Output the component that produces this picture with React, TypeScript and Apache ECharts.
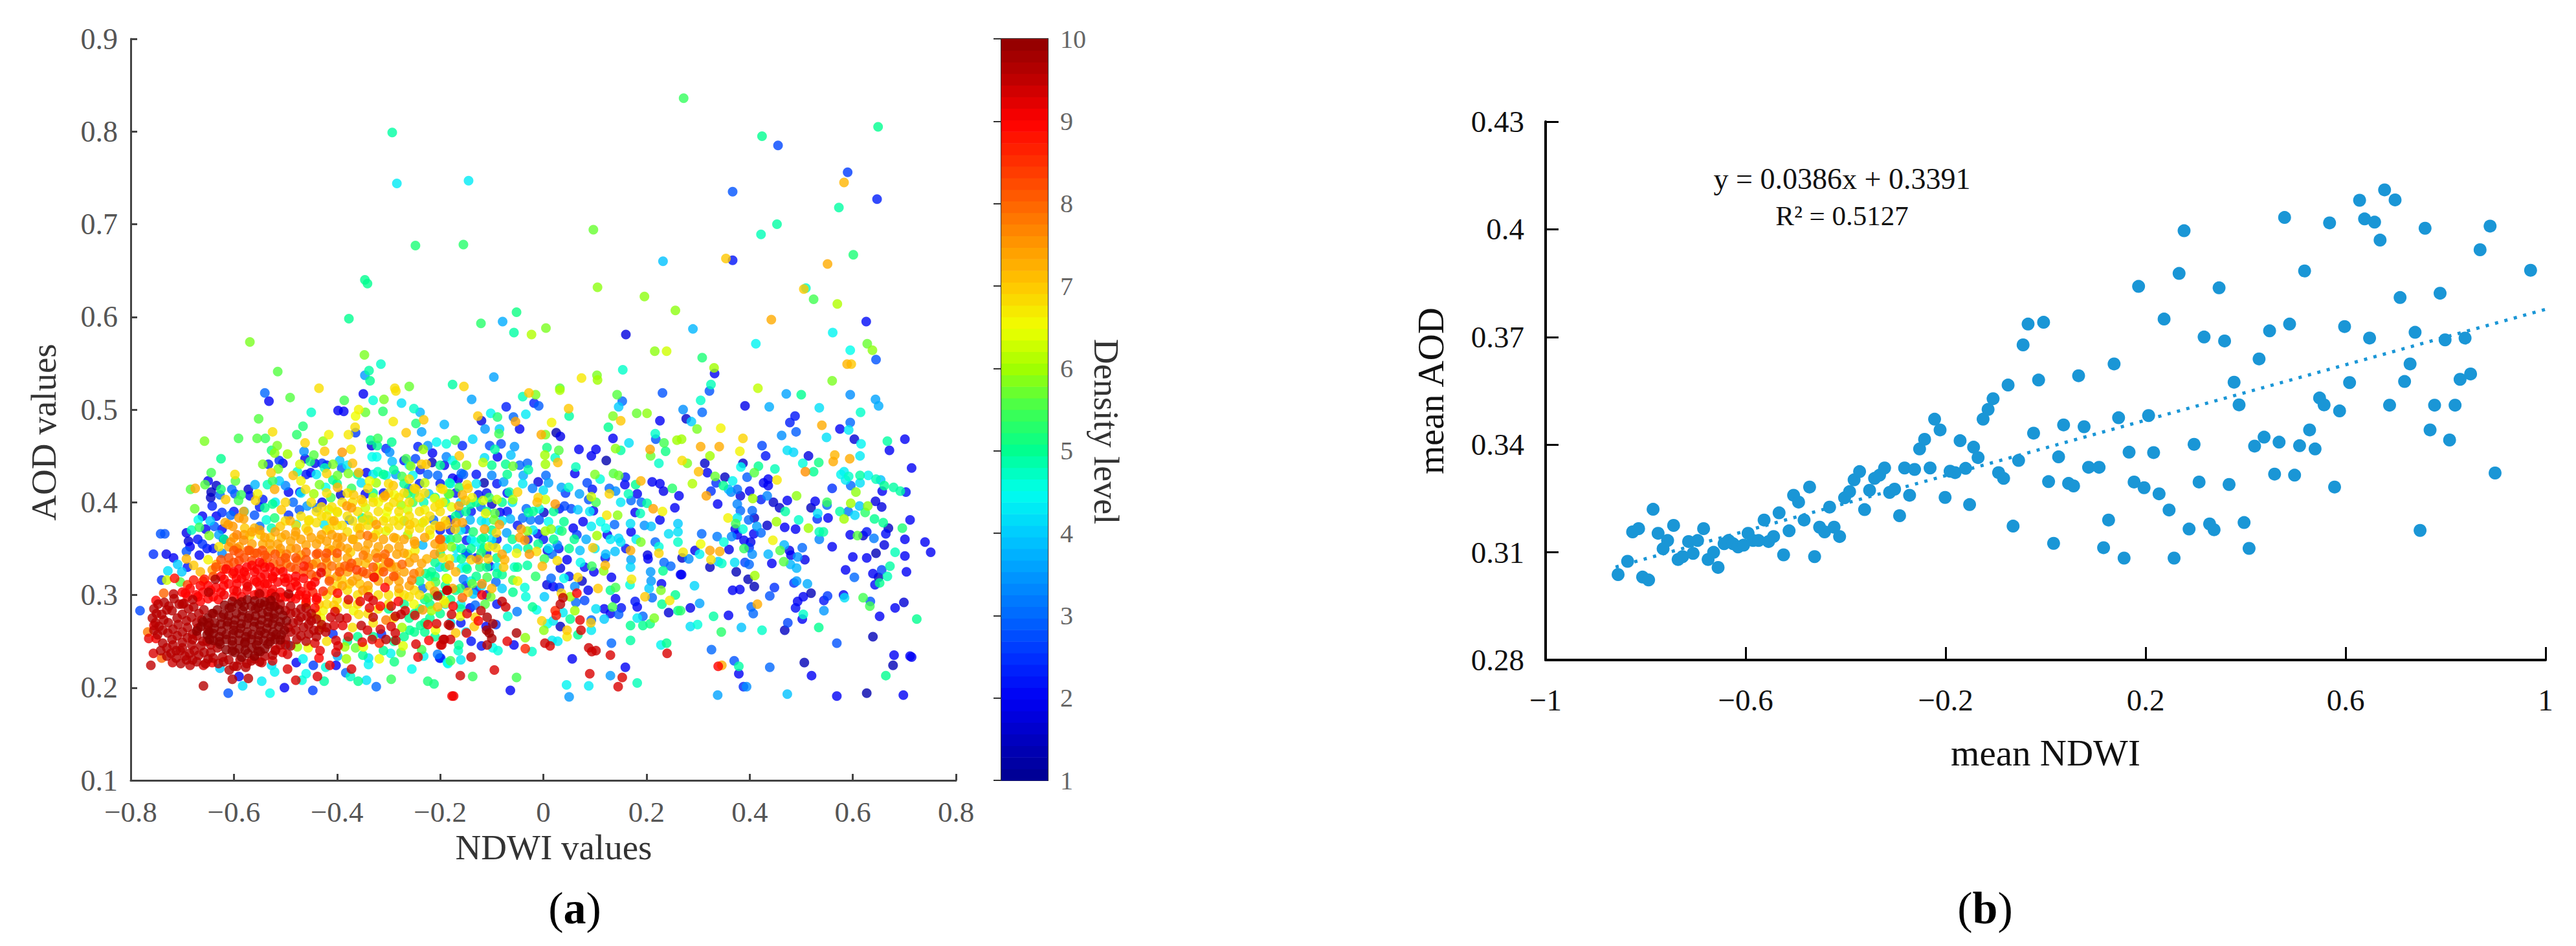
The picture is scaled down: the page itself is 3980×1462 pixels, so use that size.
import React, { useEffect, useRef } from "react";
import * as echarts from "echarts";

// ---------- Panel (a): NDWI values, AOD values, density level ----------
const sparseUpper: number[][] = [
[-0.293,0.799,4.9],[-0.284,0.744,4.3],[-0.145,0.747,4.3],[-0.248,0.677,5.2],[-0.155,0.678,5.3],[-0.346,0.640,5],[-0.341,0.636,5],[-0.377,0.598,5],[-0.569,0.573,5.8],[-0.052,0.605,5.1],[-0.121,0.593,5.3],[-0.079,0.595,3.7],[-0.057,0.583,4.9],[-0.023,0.581,6.1],[0.005,0.588,5.8],[-0.347,0.559,5.8],[-0.315,0.549,4.7],[-0.515,0.541,5.6],[-0.338,0.542,4.9],[-0.346,0.537,3.5],[-0.336,0.531,5],[-0.176,0.527,4.9],[-0.154,0.525,6.9],[-0.096,0.535,3.6],[-0.260,0.525,5.7],[-0.435,0.523,6.8],[-0.288,0.523,6.8],
[0.272,0.836,5.4],[0.424,0.795,5],[0.455,0.785,2.7],[0.649,0.805,5],[0.590,0.756,2.6],[0.583,0.745,7.2],[0.367,0.735,2.8],[0.647,0.727,2.3],[0.573,0.718,4.9],[0.453,0.700,4.9],[0.422,0.689,4.8],[0.097,0.694,5.7],[0.232,0.660,3.9],[0.367,0.661,2.2],[0.354,0.663,7],[0.551,0.657,7.3],[0.601,0.667,5.2],[0.105,0.632,5.9],[0.196,0.622,5.9],[0.256,0.607,5.9],[0.509,0.631,4.7],[0.505,0.630,7],[0.524,0.619,5.5],[0.570,0.614,6.1],[0.442,0.597,7.3],[0.626,0.595,2.1],[0.160,0.581,1.8],[0.290,0.587,3.8],[0.561,0.583,4.4],[0.412,0.571,4.4],[0.595,0.564,4.5],[0.628,0.571,5.7],[0.638,0.564,5.9],[0.645,0.554,2.8],[0.589,0.549,7.2],[0.597,0.549,7],[0.216,0.563,5.9],[0.239,0.563,6.3],[0.308,0.556,5.2],[0.331,0.545,6],[0.332,0.539,2],[0.154,0.543,4.7],[0.074,0.534,6.7],[0.104,0.537,5.8],[0.105,0.532,6],[0.560,0.531,5.8],[0.325,0.527,4.8],[0.416,0.523,6.2],[0.032,0.523,5.6],
];
const sparseRight: number[][] = [
[0.322,0.520,2.8],[0.305,0.510,4.7],[0.271,0.500,3.4],[0.308,0.497,3],[0.277,0.490,1.6],[0.287,0.487,4],[0.298,0.479,5.8],[0.344,0.480,6.6],[0.268,0.468,6],[0.387,0.469,6.9],[0.305,0.460,7.3],[0.341,0.460,7.3],[0.381,0.455,6.6],[0.323,0.450,6],[0.269,0.445,6.8],[0.279,0.442,5.8],[0.313,0.442,1.6],[0.301,0.433,7.1],[0.318,0.432,2],[0.333,0.428,5.7],[0.352,0.427,1.5],[0.289,0.420,6.1],[0.367,0.423,4.4],[0.349,0.418,5],[0.335,0.421,2.5],[0.325,0.412,2.5],[0.316,0.407,7.4],[0.359,0.414,3.8],[0.376,0.414,3],[0.364,0.411,3.3],[0.382,0.407,1.8],[0.387,0.442,1.6],[0.383,0.438,4.5],[0.417,0.439,5],[0.409,0.432,5.6],[0.395,0.427,2.9],[0.449,0.436,4.8],[0.424,0.461,2.7],[0.431,0.450,2.2],[0.438,0.503,3.7],[0.391,0.504,1.9],[0.471,0.517,3.6],[0.500,0.516,5],[0.535,0.502,4.2],[0.488,0.493,2.2],[0.478,0.486,2.3],[0.490,0.476,2.9],[0.462,0.472,3.4],[0.540,0.483,7.3],[0.575,0.479,2],[0.595,0.486,3],[0.592,0.478,4.3],[0.549,0.470,4.2],[0.595,0.516,3.4],[0.644,0.511,3.6],[0.650,0.504,3.7],[0.615,0.497,4.7],[0.603,0.468,1.7],[0.616,0.463,4.4],[0.667,0.466,4.9],[0.701,0.468,2],[0.671,0.456,2],[0.473,0.456,4.2],[0.485,0.454,4.1],[0.514,0.450,1.8],[0.503,0.442,4.6],[0.534,0.443,5.1],[0.565,0.451,7.2],[0.562,0.444,7.3],[0.594,0.447,7.3],[0.614,0.450,4.3],[0.508,0.433,7.6],[0.524,0.433,5],[0.714,0.437,2],[0.583,0.433,4.3],[0.577,0.430,4.4],[0.592,0.428,4.7],[0.586,0.424,4.3],[0.614,0.421,4.2],[0.614,0.429,4.9],[0.630,0.429,4.4],[0.645,0.425,4.8],[0.654,0.424,3.9],[0.661,0.418,5],[0.679,0.416,4.9],[0.692,0.412,4.9],[0.703,0.411,2.2],[0.657,0.412,2],[0.596,0.418,3],[0.560,0.415,2.5],[0.606,0.411,5.9],[0.453,0.424,6.7],[0.436,0.425,2],[0.427,0.421,2],[0.436,0.418,2],[0.400,0.412,2],[0.406,0.404,6],[0.434,0.407,3.3],[0.422,0.403,2.3],[0.491,0.407,5.9],[0.473,0.402,2],[0.446,0.400,1.6],[0.458,0.394,1.6],[0.527,0.401,2],[0.519,0.394,1.5],[0.550,0.400,5.4],[0.550,0.397,3],[0.596,0.399,6],[0.644,0.401,1.8],[0.656,0.395,1.8],[0.629,0.396,5.9],[0.613,0.396,3.9],[0.575,0.390,4.9],[0.591,0.390,3.1],[0.624,0.389,5.3],[0.604,0.386,4.1],[0.532,0.388,4.2],[0.531,0.382,2.5],[0.552,0.383,2],[0.583,0.382,6],[0.642,0.382,5],[0.659,0.378,5],[0.711,0.381,2],[0.669,0.372,1.5],[0.696,0.372,5.2],[0.664,0.366,2.1],[0.627,0.368,2.2],[0.595,0.365,2],[0.609,0.364,5.6],[0.620,0.364,1.6],[0.641,0.361,3.2],[0.701,0.360,2],[0.740,0.357,2],[0.751,0.346,2],[0.661,0.354,1.8],[0.560,0.352,2],[0.535,0.368,4.8],[0.543,0.368,4.9],[0.535,0.360,3.3],[0.514,0.372,6],[0.495,0.381,4.7],[0.489,0.371,2],[0.468,0.373,2],[0.452,0.379,6],[0.469,0.390,4.9],[0.434,0.375,1.6],[0.445,0.359,6.6],[0.414,0.374,3.6],[0.422,0.367,3],[0.408,0.366,2],[0.398,0.381,3],[0.409,0.383,1.6],[0.405,0.391,3],[0.382,0.391,3],[0.376,0.398,3.3],[0.338,0.398,2],[0.358,0.383,6.6],[0.376,0.383,4.3],[0.373,0.377,5.5],[0.372,0.371,2],[0.387,0.371,4.6],[0.365,0.363,3.3],[0.376,0.365,2],[0.337,0.363,3.2],[0.307,0.366,3],[0.350,0.357,4.6],[0.360,0.349,1.9],[0.389,0.359,2],[0.402,0.357,1.9],[0.389,0.350,5.4],[0.399,0.351,2.5],[0.405,0.344,3.4],[0.436,0.344,3.8],[0.467,0.354,3.8],[0.459,0.348,5.6],[0.477,0.348,1.9],[0.480,0.343,2],[0.502,0.351,3],[0.493,0.341,3.5],[0.507,0.338,1.9],[0.466,0.336,5.6],[0.479,0.333,3.8],[0.491,0.329,3.8],[0.443,0.334,2],[0.391,0.335,2.7],[0.399,0.333,3],[0.371,0.335,4.2],[0.374,0.325,1.4],[0.410,0.321,6],[0.397,0.317,1.4],[0.409,0.309,1.4],[0.381,0.306,2],[0.367,0.305,2],[0.305,0.355,6.5],[0.323,0.348,7.4],[0.342,0.347,7.3],[0.303,0.344,4.4],[0.271,0.346,6.7],[0.294,0.348,1.9],[0.269,0.340,1.6],[0.282,0.339,3.4],[0.325,0.338,6.8],[0.346,0.334,4.7],[0.339,0.336,4],[0.323,0.330,1.5],[0.268,0.322,2],[0.293,0.310,4.1],[0.448,0.308,2.5],[0.439,0.299,2.8],[0.491,0.315,3.5],[0.486,0.313,2.5],[0.512,0.312,3.7],[0.519,0.302,1.4],[0.504,0.298,2],[0.493,0.293,2],[0.489,0.286,2.1],[0.504,0.279,4.7],[0.502,0.274,2],[0.544,0.294,2.2],[0.551,0.299,2.6],[0.544,0.283,3.5],[0.582,0.300,2],[0.584,0.297,4.2],[0.620,0.297,5.5],[0.634,0.293,2.8],[0.633,0.288,5.5],[0.682,0.286,2],[0.699,0.292,1.7],[0.652,0.277,2],[0.724,0.274,5],[0.303,0.291,3.6],[0.285,0.286,1.9],[0.266,0.283,5.3],[0.330,0.277,4.9],[0.359,0.278,2],[0.403,0.287,3],[0.415,0.290,7.3],[0.407,0.280,3],[0.285,0.266,4.2],[0.299,0.268,4.6],[0.345,0.260,5.3],[0.384,0.265,3.9],[0.424,0.262,4.7],[0.474,0.270,2.7],[0.468,0.262,1.5],[0.534,0.265,5],[0.639,0.255,1.4],[0.569,0.248,2.8],[0.326,0.241,3],[0.339,0.223,9],[0.346,0.224,7.3],[0.370,0.229,2.8],[0.379,0.223,4.9],[0.379,0.215,2],[0.439,0.222,3],[0.506,0.227,1.4],[0.520,0.213,2],[0.678,0.224,1.4],[0.680,0.235,2],[0.711,0.234,2],[0.714,0.233,2],[0.664,0.213,5],[0.388,0.201,2.4],[0.394,0.201,3.4],[0.338,0.192,3.6],[0.473,0.193,3.9],[0.569,0.191,2],[0.627,0.194,1.3],[0.698,0.192,2],[0.600,0.341,2],[0.627,0.340,2],[0.645,0.345,1.4],[0.682,0.346,4.8],[0.701,0.342,2],[0.586,0.327,2],[0.603,0.319,3],[0.639,0.323,2],[0.656,0.327,2.7],[0.672,0.331,4.9],[0.704,0.325,2],[0.667,0.320,4.8],[0.650,0.319,1.4],[0.643,0.311,2.1],[0.652,0.313,5],
];
const sparseMiddle: number[][] = [
[-0.139,0.511,3.6],[-0.028,0.518,7],[-0.015,0.516,5.8],[-0.040,0.514,4.8],[-0.018,0.507,2.3],[-0.009,0.504,2.9],[0.032,0.521,6.1],[0.143,0.516,5.6],[0.153,0.509,3],[0.146,0.503,4],[0.231,0.518,2.8],[-0.072,0.503,2.3],[-0.102,0.496,4.4],[-0.034,0.495,4.3],[0.049,0.501,7],[0.050,0.493,4.9],[-0.127,0.493,7],[-0.089,0.492,5.2],[-0.058,0.492,3],[-0.054,0.487,7.4],[-0.120,0.488,1.8],[-0.046,0.479,2],[0.016,0.486,6.6],[-0.192,0.484,3.8],[-0.113,0.479,3.5],[-0.085,0.479,4],[-0.086,0.474,5.5],[-0.004,0.473,7.3],[0.004,0.473,5.8],[0.025,0.475,1.3],[0.033,0.471,1.9],[0.126,0.481,5],[0.135,0.493,5.8],[0.150,0.488,7],[0.181,0.496,5.7],[0.201,0.496,5.9],[0.226,0.488,2],[0.135,0.469,2],[0.166,0.464,4.2],[0.217,0.474,4.7],[0.218,0.468,2.8],[0.234,0.464,5.5],[0.259,0.467,6],[0.237,0.455,5.1],[0.207,0.457,7.4],[0.208,0.450,5.7],[0.140,0.458,5.9],[0.150,0.456,4.9],[0.069,0.457,2],[0.102,0.457,2],[0.093,0.450,2],[0.122,0.445,1.3],[0.224,0.442,4.7],[-0.137,0.468,4.1],[-0.157,0.461,2.4],[-0.171,0.467,5.6],[-0.188,0.463,4.6],[-0.104,0.461,2.7],[-0.082,0.463,2.7],[-0.056,0.460,3.5],[-0.094,0.457,4.9],[-0.063,0.451,3.9],[-0.089,0.449,2],[-0.114,0.448,4.2],[-0.117,0.443,6.2],[0.007,0.459,5.1],[0.030,0.456,5.6],[0.003,0.451,6],[0.023,0.448,4.7],[0.028,0.443,7.1],[0.004,0.441,6],[-0.073,0.441,5],[-0.059,0.439,5.7],[-0.046,0.440,3],[-0.031,0.442,3],[-0.029,0.435,4.9],[-0.039,0.429,3.7],[-0.100,0.429,3.3],[-0.077,0.422,3.6],[-0.115,0.421,1.3],[0.061,0.431,2],[0.063,0.438,4.8],[0.100,0.430,5.8],[0.110,0.425,4.6],[0.136,0.431,5.6],[0.146,0.429,5.7],[0.159,0.427,2.4],[0.158,0.419,2],[0.189,0.423,7.2],[0.179,0.419,5],[0.211,0.422,2],[0.226,0.420,2],[0.233,0.412,1.9],[0.250,0.415,5.3],[0.005,0.429,3],[-0.010,0.422,1.8],[0.010,0.421,3.6],[0.000,0.413,4.2],[-0.021,0.415,3.2],[0.035,0.416,3.6],[0.049,0.416,4.7],[0.043,0.410,2.6],[0.070,0.409,3.6],[0.085,0.421,2.7],[0.095,0.414,2.2],[0.128,0.415,3],[0.140,0.412,3.4],[0.128,0.409,6.9],[0.165,0.409,4.8],[0.182,0.409,2],[0.170,0.402,3],[0.093,0.406,6.3],[0.102,0.400,5.5],[0.088,0.403,2.8],[-0.066,0.411,4.9],[-0.050,0.411,6.9],[-0.059,0.403,6.1],[-0.010,0.405,6.9],[0.004,0.403,6.3],[-0.012,0.400,7.1],[0.023,0.398,7.5],[0.041,0.396,2.7],[0.054,0.393,2.7],[0.067,0.392,4],[0.031,0.393,2.2],[0.097,0.391,2],[0.201,0.399,4.9],[0.190,0.400,3],[0.213,0.393,7.4],[0.231,0.390,6.6],[0.178,0.389,2],[0.188,0.388,4.8],[0.255,0.394,2],[0.263,0.407,2],[-0.033,0.393,3],[-0.029,0.389,4.9],[0.001,0.389,1.6],[-0.008,0.393,4.6],[-0.040,0.383,3],[-0.025,0.381,3.2],[-0.008,0.381,2.8],[-0.064,0.382,3.8],[-0.084,0.389,2],[-0.100,0.398,1.6],[-0.121,0.395,3],[-0.112,0.388,6.6],[-0.094,0.388,5.6],[-0.111,0.379,4.3],[-0.096,0.381,5.7],[-0.085,0.376,7.4],[-0.114,0.371,7.4],[-0.091,0.367,6.9],[-0.071,0.367,3.6],[-0.043,0.371,7.4],[-0.031,0.369,5.9],[-0.046,0.362,7.4],[-0.036,0.359,7.5],[0.004,0.369,6],[0.015,0.371,5.9],[-0.011,0.366,2],[0.010,0.379,4.5],[0.040,0.379,5],[0.036,0.369,5.2],[0.058,0.372,2],[0.065,0.365,2.6],[0.077,0.379,2],[0.093,0.374,4.3],[0.111,0.379,4.5],[0.123,0.386,6.7],[0.144,0.386,5.9],[0.138,0.376,3],[0.121,0.372,4.5],[0.124,0.365,2],[0.104,0.364,6],[0.083,0.360,3.7],[0.169,0.377,4.2],[0.170,0.368,2],[0.196,0.375,3.4],[0.209,0.374,3.9],[0.226,0.381,2],[0.261,0.377,4],[0.243,0.366,4.2],[0.261,0.368,4.2],[0.146,0.361,4.1],[0.150,0.357,4.2],[0.189,0.357,5.8],[0.217,0.357,3],[0.224,0.352,4.6],[0.261,0.357,4.7],[0.169,0.348,7.3],[0.139,0.347,3.9],[0.121,0.344,3.9],[0.096,0.351,7],[0.071,0.348,3.9],[0.027,0.354,3.3],[0.008,0.348,1.8],[-0.013,0.347,6.8],[-0.027,0.344,7.5],[-0.052,0.345,6.6],[-0.080,0.344,7.4],[-0.075,0.338,7.2],[-0.077,0.330,7],[0.027,0.337,6.8],[0.017,0.344,3],[0.046,0.338,2],[0.033,0.329,1.8],[0.002,0.339,5.4],[-0.002,0.331,7.2],[-0.031,0.332,4.9],[-0.056,0.330,4.7],[-0.015,0.320,5.3],[0.072,0.335,4.5],[0.094,0.331,5.4],[0.120,0.332,7.2],[0.117,0.326,5.9],[0.098,0.325,2],[0.132,0.319,2],[0.169,0.330,4.1],[0.170,0.338,3.6],[0.171,0.317,6.7],[0.168,0.311,4.6],[0.202,0.343,1.8],[0.203,0.339,2],[0.224,0.345,6.9],[0.208,0.325,3.5],[0.232,0.326,5],[0.234,0.335,3],[0.247,0.331,3],[0.266,0.322,2],[0.209,0.315,3.5],[0.229,0.312,2],[0.228,0.305,5.8],[0.205,0.307,4],[0.197,0.298,7],[0.211,0.297,3],[0.256,0.300,5],[0.245,0.294,6.7],[0.230,0.290,5],[0.243,0.281,1.7],[0.261,0.283,5],[0.215,0.275,5.8],[0.193,0.277,3],[0.182,0.275,4.3],[0.207,0.269,5.1],[0.193,0.267,5],[0.169,0.267,5],[0.178,0.293,2.2],[0.182,0.287,2],[0.151,0.286,2.2],[0.146,0.279,2.9],[0.130,0.280,2],[0.118,0.285,2],[0.134,0.287,5.5],[0.102,0.285,4.2],[0.140,0.296,2],[0.130,0.305,5],[0.140,0.308,5.5],[0.106,0.307,7],[0.087,0.305,2],[0.067,0.319,6.9],[0.061,0.309,3.4],[0.075,0.315,1.6],[0.065,0.302,9],[0.040,0.318,4.5],[0.015,0.318,3],[0.007,0.311,1.8],[0.019,0.309,2],[0.031,0.308,2.5],[0.002,0.298,4],[0.038,0.297,9.5],[0.033,0.290,9.5],[0.035,0.302,6.9],[0.052,0.298,6],[0.063,0.292,3],[0.080,0.294,2.7],[0.061,0.283,6],[0.023,0.283,8.6],[0.025,0.278,8.8],[0.038,0.281,4.3],[0.052,0.274,5],[0.071,0.273,9.2],[0.093,0.273,3],[0.092,0.270,7],[0.118,0.274,4],[0.073,0.262,9.3],[0.093,0.262,4.3],[0.067,0.257,5],[0.046,0.262,7],[0.046,0.255,6.7],[0.033,0.266,1.5],[0.019,0.272,4.2],[-0.003,0.272,6.9],[0.008,0.269,4.5],[0.001,0.262,5.9],[0.017,0.251,4.3],[0.028,0.250,4.3],[0.003,0.248,9.4],[0.013,0.245,9.3],[0.169,0.251,4.9],[0.132,0.248,3],[0.088,0.243,9.4],[0.102,0.240,9.4],[0.094,0.239,9.4],[0.130,0.235,9.3],[0.228,0.246,4.4],[0.239,0.248,5],[0.240,0.237,9.3],[0.056,0.231,2],[0.159,0.222,2],[0.090,0.215,9.3],[0.130,0.213,3.5],[0.153,0.211,9.3],[0.182,0.205,4.8],[0.045,0.203,4.4],[0.088,0.202,4.3],[0.145,0.201,9.3],[0.050,0.190,3.5],[-0.021,0.287,5],[-0.013,0.284,4.5],[-0.051,0.282,3.2],[-0.069,0.277,4.7],[-0.080,0.293,9.5],[-0.073,0.287,9.4],[-0.036,0.308,4.6],[-0.034,0.298,4.6],[-0.059,0.303,5],[-0.050,0.315,6.6],[-0.059,0.316,5.5],[-0.080,0.307,4],[-0.057,0.246,2],[-0.070,0.250,9.2],[-0.035,0.242,8.6],[-0.022,0.239,4.7],[-0.035,0.254,5.9],[-0.052,0.259,9.7],[-0.052,0.211,5.5],[-0.064,0.197,2],[-0.095,0.219,9.3],[-0.088,0.240,4.6],[-0.098,0.243,4.5],[-0.109,0.246,9.6],[-0.100,0.253,9.7],[-0.105,0.259,9.8],[-0.110,0.262,9.7],[-0.098,0.269,9.7],[-0.109,0.276,9.7],[-0.121,0.283,9.5],[-0.092,0.268,2.6],[-0.111,0.266,2],[-0.126,0.272,9],[-0.134,0.266,7],[-0.132,0.276,6.9],[-0.148,0.280,9.2],[-0.161,0.277,6.5],[-0.178,0.279,9.4],[-0.175,0.288,9],[-0.181,0.267,9.6],[-0.149,0.259,9.1],[-0.170,0.259,7],[-0.180,0.252,9.4],[-0.194,0.252,9.5],[-0.197,0.246,9.4],[-0.164,0.246,5],[-0.165,0.240,4.7],[-0.140,0.233,9.4],[-0.160,0.230,4.3],[-0.180,0.229,5.5],[-0.185,0.226,4.5],[-0.199,0.232,2.4],[-0.161,0.213,9.4],[-0.137,0.212,5.4],[-0.174,0.191,9.1],[-0.119,0.300,9],[-0.187,0.305,9.5],[-0.190,0.291,6.7],[-0.157,0.297,8],
[-0.155,0.430,2.9],[-0.165,0.425,2],[-0.176,0.426,2],[-0.182,0.421,4.8],[-0.192,0.440,2],[-0.176,0.445,4.4],[-0.163,0.450,7],[-0.149,0.440,5.9],[-0.188,0.449,3.3],[-0.159,0.431,3],[-0.148,0.419,6.8],[-0.146,0.415,7],[-0.157,0.408,7.2],[-0.138,0.405,6.6],[-0.195,0.414,6.8],[-0.182,0.409,5.7],[-0.163,0.416,5.4],[-0.126,0.408,2.2],[-0.151,0.402,7],[-0.164,0.396,7.4],[-0.178,0.395,6.4],[-0.195,0.400,6.6],[-0.141,0.398,5],[-0.117,0.402,6.3],[-0.105,0.405,5.4],[-0.090,0.403,6.2],[-0.163,0.388,3],[-0.142,0.381,3.8],[-0.157,0.378,7.4],[-0.169,0.378,7.3],[-0.188,0.376,7],[-0.199,0.374,7.3],[-0.180,0.381,2],[-0.171,0.371,6.9],[-0.151,0.371,2.5],[-0.136,0.368,5.2],[-0.115,0.362,5],[-0.167,0.361,5.4],[-0.149,0.359,2.2],[-0.132,0.357,4.5],[-0.199,0.360,7.9],[-0.105,0.352,6.6],[-0.092,0.351,6.7],[-0.098,0.354,3],[-0.115,0.351,5],[-0.121,0.345,5.3],[-0.159,0.350,4.9],[-0.178,0.352,5.9],[-0.195,0.352,7.2],[-0.195,0.340,6.8],[-0.182,0.339,6.6],[-0.159,0.339,5],[-0.140,0.338,6.9],[-0.126,0.338,7.4],[-0.107,0.339,6.9],[-0.147,0.344,3],[-0.182,0.332,7.6],[-0.159,0.329,4.5],[-0.123,0.330,5.2],[-0.104,0.331,2],[-0.170,0.325,7.2],[-0.148,0.328,5],[-0.090,0.323,5],[-0.080,0.322,5],[-0.109,0.319,5.5],[-0.186,0.317,6.5],[-0.155,0.317,3.2],[-0.138,0.312,5.7],[-0.119,0.312,7.6],[-0.100,0.307,7.2],[-0.161,0.307,5.3],[-0.176,0.307,7.4],[-0.146,0.303,7],[-0.136,0.301,4],[-0.102,0.298,5.8],[-0.092,0.314,3],[-0.113,0.290,5.6],[-0.132,0.289,3],[-0.142,0.286,2],[-0.193,0.294,6.5],
];
const denseLeft: number[][] = [
[-0.540,0.518,3],[-0.532,0.509,2],[-0.491,0.513,5.6],[-0.349,0.517,2],[-0.330,0.510,4.6],[-0.309,0.511,5.8],[-0.386,0.510,5.5],[-0.286,0.520,6.8],[-0.275,0.507,4.2],[-0.450,0.497,4.7],[-0.398,0.499,2],[-0.387,0.498,2],[-0.358,0.500,6.6],[-0.364,0.493,6.5],[-0.345,0.497,5.7],[-0.311,0.498,5.3],[-0.251,0.501,4.7],[-0.239,0.497,3.8],[-0.232,0.489,7],[-0.291,0.487,6.7],[-0.247,0.485,5.2],[-0.552,0.490,5.6],[-0.466,0.482,5.2],[-0.525,0.476,6.8],[-0.365,0.481,6.8],[-0.364,0.475,2.6],[-0.378,0.473,6.7],[-0.266,0.475,7],[-0.236,0.476,3.6],[-0.478,0.473,5.3],[-0.416,0.473,6.6],[-0.591,0.469,5.5],[-0.555,0.469,5.6],[-0.539,0.469,5.4],[-0.657,0.466,5.8],[-0.462,0.464,6.9],[-0.427,0.466,5.9],[-0.335,0.467,5],[-0.321,0.469,5.4],[-0.294,0.465,5],[-0.322,0.461,5],[-0.333,0.461,1.8],[-0.373,0.457,6.7],[-0.424,0.455,7],[-0.390,0.454,7.5],[-0.464,0.455,3.4],[-0.516,0.461,5.8],[-0.527,0.456,5.2],[-0.496,0.452,6],[-0.521,0.453,5.9],[-0.445,0.451,5.6],[-0.305,0.458,2.5],[-0.298,0.454,3.4],[-0.233,0.457,6],[-0.243,0.460,2.3],[-0.215,0.453,2],[-0.224,0.461,3.5],[-0.207,0.465,4.4],[-0.332,0.449,4.5],[-0.323,0.449,4.5],[-0.293,0.444,3.9],[-0.266,0.447,5.5],[-0.248,0.447,2.7],[-0.625,0.447,5],[-0.512,0.445,2.5],[-0.505,0.442,1.9],[-0.533,0.441,2.3],[-0.544,0.441,5.8],[-0.462,0.447,1.9],[-0.452,0.444,5.2],[-0.443,0.442,1.9],[-0.472,0.441,6.3],[-0.395,0.445,3.9],[-0.408,0.441,5.8],[-0.429,0.442,2.5],[-0.370,0.442,7.1],[-0.391,0.437,2.9],[-0.424,0.437,4.8],[-0.257,0.439,5.9],[-0.236,0.441,7],[-0.227,0.441,7],[-0.216,0.443,1.5],[-0.239,0.435,2.3],[-0.514,0.436,5.8],[-0.477,0.433,4.7],[-0.451,0.432,2],[-0.528,0.432,7],[-0.358,0.432,7.2],[-0.321,0.433,4.7],[-0.644,0.432,5.5],[-0.598,0.430,6.8],[-0.650,0.423,2],[-0.485,0.429,7.1],[-0.420,0.431,6.9],[-0.399,0.429,5.7],[-0.378,0.431,5.8],[-0.343,0.432,2],[-0.305,0.429,4.4],[-0.286,0.430,3.5],[-0.274,0.428,5.5],[-0.253,0.429,4.4],[-0.224,0.430,3],[-0.205,0.429,3],[-0.597,0.423,5.6],[-0.656,0.419,5.6],[-0.675,0.415,7.3],[-0.684,0.414,5.6],[-0.634,0.418,1.6],[-0.625,0.414,5.2],[-0.644,0.411,1.5],[-0.645,0.405,1.5],[-0.604,0.414,3],[-0.598,0.409,2.8],[-0.616,0.403,7],[-0.627,0.408,3],[-0.572,0.414,1.6],[-0.559,0.419,3.8],[-0.535,0.419,4.8],[-0.525,0.423,5.4],[-0.521,0.414,7.3],[-0.512,0.423,4],[-0.500,0.418,3.3],[-0.470,0.423,6.6],[-0.494,0.411,2],[-0.472,0.411,2.2],[-0.461,0.414,6.8],[-0.434,0.419,5.8],[-0.422,0.416,4.5],[-0.445,0.409,6],[-0.408,0.424,5],[-0.399,0.416,7.2],[-0.393,0.408,1.6],[-0.372,0.415,5.4],[-0.353,0.421,4.2],[-0.337,0.423,6.5],[-0.324,0.421,6],[-0.291,0.418,7],[-0.261,0.415,3],[-0.247,0.414,6.9],[-0.230,0.421,6.2],[-0.199,0.415,6.7],[-0.184,0.409,5.5],[-0.368,0.408,7],[-0.345,0.409,2],[-0.307,0.407,7.4],[-0.263,0.409,5.4],[-0.222,0.409,4],[-0.211,0.404,6.5],
[-0.586,0.408,5.4],[-0.554,0.409,6.6],[-0.569,0.407,2.1],[-0.591,0.402,5.5],[-0.642,0.396,2.3],[-0.676,0.393,5.7],[-0.544,0.403,2.3],[-0.558,0.402,6.9],[-0.525,0.398,5],[-0.540,0.394,5],[-0.500,0.400,6.9],[-0.485,0.400,3],[-0.473,0.392,2.8],[-0.458,0.396,3.5],[-0.429,0.400,2],[-0.439,0.394,3],[-0.412,0.405,5.5],[-0.353,0.403,7],[-0.330,0.405,6.3],[-0.320,0.400,6.5],[-0.345,0.394,6.3],[-0.289,0.408,6.5],[-0.276,0.397,6],[-0.253,0.400,5.5],[-0.232,0.400,4.8],[-0.201,0.398,6.8],[-0.381,0.396,7.5],[-0.372,0.394,7.5],[-0.416,0.392,6.3],[-0.399,0.389,6.4],[-0.303,0.390,6.5],[-0.263,0.392,6.3],[-0.230,0.392,6.6],[-0.581,0.390,7.4],[-0.623,0.389,2.5],[-0.634,0.385,2],[-0.606,0.386,3],[-0.581,0.382,7.4],[-0.590,0.383,7.5],[-0.560,0.386,2.8],[-0.508,0.392,7],[-0.494,0.386,2.5],[-0.491,0.380,7.2],[-0.537,0.381,4.6],[-0.521,0.383,5.2],[-0.550,0.374,3],[-0.527,0.372,4.8],[-0.510,0.374,7],[-0.479,0.376,4.3],[-0.454,0.381,6.7],[-0.425,0.376,4.3],[-0.406,0.380,7.3],[-0.376,0.381,3],[-0.351,0.383,5],[-0.339,0.381,5],[-0.324,0.376,7.5],[-0.305,0.383,6.5],[-0.280,0.383,6.5],[-0.259,0.376,7],[-0.234,0.378,6.2],[-0.213,0.381,3],[-0.201,0.374,7.3],[-0.669,0.381,4.5],[-0.661,0.385,2],[-0.646,0.380,4],[-0.638,0.374,2.8],[-0.667,0.373,5.4],[-0.682,0.370,4.8],[-0.655,0.371,2],[-0.692,0.367,1.9],[-0.611,0.376,7.5],[-0.602,0.374,7.5],[-0.617,0.378,7.3],[-0.623,0.371,2],[-0.742,0.366,2.8],[-0.734,0.366,2.8],[-0.648,0.364,5.8],[-0.688,0.358,1.7],[-0.619,0.360,5],[-0.629,0.365,3.6],[-0.594,0.365,7.7],[-0.579,0.372,7],[-0.560,0.372,7.2],[-0.569,0.364,6.8],[-0.548,0.365,6.9],[-0.529,0.362,7],[-0.508,0.362,7.2],[-0.481,0.364,7.4],[-0.456,0.369,7.1],[-0.433,0.360,7.3],[-0.414,0.371,6.9],[-0.399,0.362,7.5],[-0.368,0.360,6.8],[-0.356,0.372,7],[-0.341,0.364,7.9],[-0.326,0.365,6.6],[-0.305,0.369,6.4],[-0.286,0.361,7],[-0.263,0.365,6],[-0.249,0.355,7.4],[-0.220,0.365,6.5],[-0.201,0.360,8],[-0.234,0.354,3.8],
[-0.661,0.355,2.5],[-0.685,0.352,2],[-0.652,0.350,2.2],[-0.692,0.347,2.8],[-0.629,0.352,6.7],[-0.756,0.344,2.5],[-0.731,0.344,1.9],[-0.717,0.340,2],[-0.692,0.339,7.2],[-0.667,0.343,2],[-0.650,0.338,6.6],[-0.623,0.345,3.3],[-0.606,0.357,7.6],[-0.581,0.359,7.6],[-0.594,0.350,7.7],[-0.573,0.348,8],[-0.560,0.345,8],[-0.544,0.355,7.3],[-0.529,0.348,7.4],[-0.510,0.350,7.5],[-0.498,0.344,7.8],[-0.479,0.350,7.6],[-0.460,0.346,8],[-0.437,0.345,8],[-0.416,0.350,7.2],[-0.393,0.352,7.5],[-0.374,0.346,6.9],[-0.349,0.343,7.8],[-0.322,0.340,8],[-0.307,0.344,8],[-0.284,0.344,7.4],[-0.263,0.344,6.8],[-0.249,0.348,6.6],[-0.211,0.344,7.5],[-0.226,0.339,7.2],[-0.199,0.351,7],
[-0.709,0.333,4],[-0.728,0.326,4.2],[-0.701,0.325,4],[-0.678,0.332,7],[-0.665,0.325,7.2],[-0.634,0.333,7.2],[-0.642,0.327,7.4],[-0.740,0.316,2.5],[-0.730,0.316,6.3],[-0.715,0.318,8.9],[-0.704,0.314,5.6],[-0.690,0.311,8.3],[-0.678,0.316,8.8],[-0.611,0.332,8.2],[-0.590,0.337,8.3],[-0.565,0.337,8.3],[-0.544,0.334,8.2],[-0.523,0.334,8],[-0.498,0.334,7.8],[-0.477,0.337,8],[-0.464,0.331,8.7],[-0.447,0.333,7.7],[-0.422,0.340,8],[-0.410,0.331,7.9],[-0.385,0.331,8.1],[-0.372,0.334,8.2],[-0.362,0.327,8.4],[-0.345,0.334,7.1],[-0.322,0.330,6.5],[-0.297,0.334,7.5],[-0.274,0.333,8],[-0.251,0.323,7.8],[-0.255,0.316,7.8],[-0.236,0.334,7.4],[-0.217,0.325,5],[-0.201,0.330,4],[-0.431,0.324,9.2],[-0.502,0.318,8.8],[-0.525,0.318,8.9],[-0.548,0.319,9],[-0.577,0.321,8.9],[-0.602,0.323,8.7],[-0.619,0.317,8.9],[-0.636,0.317,9.7],[-0.657,0.317,8.8],[-0.556,0.314,9],[-0.535,0.312,9],[-0.594,0.312,9],[-0.481,0.314,8.9],[-0.456,0.310,8.8],[-0.443,0.314,9],[-0.414,0.317,7.3],[-0.391,0.317,6.9],[-0.376,0.312,7],[-0.356,0.312,7],[-0.343,0.323,8],[-0.328,0.319,9.1],[-0.318,0.325,7],[-0.286,0.321,7.5],[-0.307,0.308,9],[-0.280,0.307,7.4],[-0.228,0.323,5],[-0.209,0.314,5.5],[-0.188,0.318,6],[-0.234,0.307,3],[-0.736,0.302,8],[-0.717,0.301,9.5],[-0.751,0.294,9],[-0.694,0.302,9],[-0.673,0.300,9],[-0.649,0.303,9.6],[-0.619,0.300,9.1],[-0.594,0.304,9.1],[-0.573,0.309,9.2],[-0.552,0.302,9.1],[-0.527,0.302,9.1],[-0.494,0.301,9.7],[-0.473,0.300,8.9],[-0.447,0.303,8.7],[-0.427,0.304,8.6],[-0.399,0.302,9],[-0.378,0.295,9.3],[-0.355,0.293,9.2],[-0.339,0.298,9.3],[-0.330,0.294,9.3],[-0.316,0.288,9],[-0.337,0.286,9.2],[-0.406,0.289,7],[-0.281,0.293,9],[-0.295,0.288,9.3],[-0.268,0.283,9.3],[-0.276,0.279,9.5],[-0.287,0.277,9.5],[-0.249,0.278,9.3],[-0.234,0.284,7.5],[-0.205,0.287,7.2],[-0.211,0.304,7.5],[-0.205,0.299,9.6],[-0.186,0.305,9.5],[-0.224,0.268,9],[-0.207,0.269,9.3],[-0.184,0.268,9.4],[-0.224,0.297,5.5],
[-0.761,0.224,9.5],[-0.756,0.237,9.3],[-0.740,0.232,8],[-0.719,0.227,9.4],[-0.685,0.224,9.5],[-0.659,0.224,9.4],[-0.642,0.227,9],[-0.765,0.253,9.2],[-0.767,0.260,7.8],[-0.755,0.267,9.2],[-0.751,0.253,9.1],[-0.782,0.283,2.7],[-0.659,0.202,9.6],[-0.603,0.209,9.6],[-0.590,0.212,2],[-0.572,0.210,9.6],[-0.627,0.221,4],[-0.609,0.219,9.6],[-0.594,0.223,9.6],[-0.577,0.222,9.6],[-0.611,0.194,2.8],[-0.583,0.202,4.2],[-0.546,0.207,4.3],[-0.530,0.194,4.5],[-0.521,0.217,4.4],[-0.502,0.200,2],[-0.496,0.220,9.3],[-0.480,0.208,9.3],[-0.468,0.208,4.6],[-0.460,0.215,4.5],[-0.447,0.197,2.6],[-0.438,0.212,9.3],[-0.425,0.207,4.9],[-0.446,0.224,2.6],[-0.479,0.227,2],[-0.527,0.224,4.2],[-0.525,0.229,9.3],[-0.546,0.227,9.4],[-0.560,0.231,9.5],[-0.466,0.231,4.4],[-0.435,0.232,9],[-0.422,0.222,4.6],[-0.414,0.224,9.1],[-0.402,0.224,2],[-0.383,0.216,3],[-0.372,0.220,9.3],[-0.374,0.212,4.7],[-0.359,0.207,5],[-0.343,0.208,4.2],[-0.324,0.201,3],[-0.295,0.209,5.4],[-0.339,0.225,4.4],[-0.339,0.232,4.2],[-0.318,0.231,6.5],[-0.289,0.228,5.1],[-0.255,0.220,4.5],[-0.296,0.237,4.4],[-0.276,0.238,5.6],[-0.382,0.231,6],[-0.399,0.234,3.8],[-0.402,0.238,9.2],[-0.224,0.207,5.2],[-0.212,0.204,5.1],[-0.243,0.233,9.2],[-0.236,0.241,5.5],[-0.232,0.234,4.4],[-0.205,0.236,3.2],[-0.201,0.232,2],[-0.186,0.227,4.4],[-0.177,0.191,9.1],
[-0.477,0.244,6],[-0.456,0.243,6.5],[-0.494,0.246,4],[-0.519,0.241,9.1],[-0.496,0.236,9.3],[-0.506,0.238,9.2],[-0.433,0.240,9.2],[-0.443,0.248,9.3],[-0.402,0.251,9.3],[-0.398,0.245,9.3],[-0.378,0.255,9.3],[-0.389,0.267,9.2],[-0.381,0.275,9.3],[-0.395,0.275,9.5],[-0.412,0.276,9.4],[-0.404,0.282,9.3],[-0.406,0.267,9.3],[-0.422,0.260,9.5],[-0.408,0.258,2.5],[-0.431,0.275,6.5],[-0.385,0.244,6],[-0.364,0.243,5.7],[-0.349,0.244,6.5],[-0.351,0.249,9.2],[-0.332,0.252,9.3],[-0.318,0.248,8.7],[-0.305,0.252,9.6],[-0.286,0.251,9.5],[-0.272,0.245,6.4],[-0.316,0.263,9.3],[-0.295,0.266,9.3],[-0.287,0.259,9.4],[-0.353,0.267,9.5],[-0.341,0.262,9.3],[-0.330,0.276,9.5],[-0.358,0.279,6.8],[-0.305,0.273,7.8],[-0.314,0.258,2.5],[-0.259,0.262,5],[-0.274,0.265,6],[-0.247,0.247,9.3],[-0.222,0.251,9],[-0.199,0.246,9.3],[-0.192,0.252,9.4],[-0.209,0.262,6.5],[-0.238,0.267,5],[-0.217,0.283,6],[-0.251,0.290,6.5],[-0.368,0.283,6.5],[-0.435,0.290,7],[-0.443,0.286,9],[-0.439,0.297,9],[-0.427,0.283,6.6],
];

// Solid areas of the cloud, grouped by the colour they show
const coreLevel10: number[][] = [
[-0.603,0.293],[-0.574,0.295],[-0.549,0.291],[-0.528,0.294],[-0.632,0.284],[-0.609,0.286],[-0.583,0.283],[-0.558,0.285],[-0.534,0.282],[-0.512,0.284],[-0.651,0.275],[-0.624,0.276],[-0.598,0.273],[-0.572,0.275],[-0.546,0.273],[-0.522,0.275],[-0.498,0.272],[-0.664,0.266],[-0.638,0.264],[-0.613,0.267],[-0.587,0.264],[-0.561,0.266],[-0.536,0.264],[-0.513,0.266],[-0.652,0.257],[-0.628,0.255],[-0.602,0.258],[-0.577,0.255],[-0.552,0.257],[-0.528,0.255],[-0.508,0.257],[-0.627,0.247],[-0.603,0.246],[-0.579,0.248],[-0.556,0.246],[-0.534,0.247],[-0.598,0.238],[-0.573,0.237],[-0.549,0.239],
[-0.618,0.289],[-0.592,0.290],[-0.566,0.288],[-0.541,0.289],[-0.522,0.288],[-0.642,0.280],[-0.62,0.279],[-0.595,0.280],[-0.57,0.278],[-0.545,0.280],[-0.522,0.279],[-0.505,0.278],[-0.66,0.271],[-0.637,0.270],[-0.612,0.271],[-0.586,0.269],[-0.56,0.271],[-0.534,0.270],[-0.51,0.271],[-0.672,0.261],[-0.648,0.260],[-0.624,0.261],[-0.6,0.262],[-0.574,0.260],[-0.548,0.261],[-0.524,0.260],[-0.502,0.262],[-0.64,0.251],[-0.615,0.252],[-0.59,0.251],[-0.566,0.252],[-0.542,0.251],[-0.52,0.252],[-0.615,0.241],[-0.59,0.242],[-0.565,0.243],[-0.54,0.242],[-0.585,0.233],[-0.56,0.234],
[-0.625,0.2685],[-0.60,0.2675],[-0.575,0.2685],[-0.55,0.2675],[-0.525,0.2685],[-0.61,0.2775],[-0.585,0.2765],[-0.558,0.2775],[-0.533,0.2765],[-0.605,0.2865],[-0.58,0.2875],[-0.553,0.2865],[-0.53,0.2875],[-0.64,0.2585],[-0.615,0.2575],[-0.59,0.2585],[-0.565,0.2575],[-0.54,0.2585],[-0.518,0.2575],[-0.628,0.2495],[-0.603,0.2505],[-0.578,0.2495],[-0.553,0.2505],[-0.53,0.2495],[-0.603,0.2395],[-0.578,0.2405],[-0.553,0.2395],[-0.585,0.2925],[-0.56,0.2935],[-0.54,0.2925],[-0.65,0.267],[-0.647,0.252],[-0.51,0.2515],
];
const coreLevel95: number[][] = [
[-0.755,0.285],[-0.735,0.292],[-0.716,0.296],[-0.697,0.291],[-0.678,0.287],[-0.658,0.284],[-0.758,0.275],[-0.74,0.279],[-0.72,0.283],[-0.70,0.279],[-0.682,0.276],[-0.662,0.273],[-0.64,0.28],[-0.745,0.266],[-0.727,0.27],[-0.708,0.268],[-0.69,0.265],[-0.67,0.264],[-0.65,0.262],[-0.748,0.257],[-0.728,0.259],[-0.71,0.256],[-0.69,0.254],[-0.672,0.256],[-0.652,0.25],[-0.632,0.243],[-0.738,0.248],[-0.718,0.246],[-0.70,0.249],[-0.682,0.246],[-0.664,0.245],[-0.645,0.238],[-0.622,0.233],[-0.742,0.24],[-0.722,0.237],[-0.704,0.24],[-0.686,0.237],[-0.668,0.235],[-0.65,0.231],[-0.63,0.226],[-0.712,0.232],[-0.692,0.23],[-0.672,0.228],[-0.61,0.23],[-0.588,0.23],[-0.566,0.229],[-0.54,0.234],[-0.52,0.24],[-0.50,0.246],[-0.478,0.252],[-0.455,0.258],[-0.435,0.262],[-0.49,0.28],[-0.47,0.276],[-0.45,0.272],[-0.43,0.268],[-0.485,0.27],[-0.465,0.265],[-0.445,0.262],[-0.49,0.26],[-0.47,0.256],[-0.5,0.252],[-0.51,0.29],[-0.49,0.288],[-0.47,0.285],[-0.45,0.28],[-0.52,0.298],[-0.55,0.301],
[-0.747,0.29],[-0.726,0.288],[-0.706,0.29],[-0.688,0.285],[-0.668,0.28],[-0.648,0.27],[-0.75,0.28],[-0.73,0.284],[-0.71,0.275],[-0.692,0.272],[-0.672,0.27],[-0.752,0.27],[-0.736,0.273],[-0.718,0.263],[-0.70,0.26],[-0.68,0.258],[-0.66,0.25],[-0.755,0.262],[-0.738,0.262],[-0.72,0.252],[-0.70,0.243],[-0.68,0.252],[-0.645,0.246],[-0.73,0.243],[-0.712,0.24],[-0.695,0.234],[-0.677,0.24],[-0.658,0.238],[-0.64,0.232],[-0.62,0.228],[-0.73,0.234],[-0.703,0.226],[-0.68,0.23],[-0.655,0.226],[-0.6,0.223],[-0.575,0.226],[-0.55,0.228],[-0.525,0.235],[-0.51,0.246],[-0.49,0.245],[-0.46,0.25],[-0.44,0.255],[-0.42,0.265],[-0.48,0.262],[-0.455,0.268],[-0.475,0.272],[-0.458,0.277],[-0.44,0.274],[-0.495,0.265],[-0.48,0.281],[-0.46,0.286],[-0.5,0.283],[-0.52,0.288],[-0.70,0.29],[-0.68,0.295],
];
const coreLevel9: number[][] = [
[-0.66,0.303],[-0.635,0.308],[-0.61,0.312],[-0.585,0.318],[-0.56,0.325],[-0.54,0.322],[-0.515,0.314],[-0.49,0.308],[-0.47,0.304],[-0.60,0.298],[-0.575,0.305],[-0.55,0.31],[-0.525,0.306],[-0.50,0.298],[-0.48,0.296],[-0.46,0.292],[-0.63,0.295],[-0.665,0.293],[-0.69,0.298],[-0.625,0.32],[-0.60,0.325],[-0.575,0.33],[-0.55,0.335],[-0.53,0.33],[-0.505,0.325],[-0.48,0.32],
[-0.70,0.303],[-0.685,0.307],[-0.67,0.298],[-0.65,0.296],[-0.645,0.305],[-0.625,0.303],[-0.62,0.31],[-0.60,0.305],[-0.595,0.318],[-0.585,0.298],[-0.575,0.312],[-0.56,0.30],[-0.56,0.316],[-0.54,0.302],[-0.54,0.312],[-0.525,0.32],[-0.51,0.303],[-0.50,0.314],[-0.49,0.297],[-0.478,0.31],[-0.46,0.30],[-0.45,0.31],[-0.465,0.318],[-0.44,0.295],[-0.615,0.328],[-0.59,0.328],[-0.565,0.332],[-0.54,0.33],[-0.52,0.325],[-0.495,0.318],[-0.65,0.31],[-0.665,0.31],[-0.64,0.298],[-0.58,0.325],[-0.555,0.328],[-0.51,0.297],[-0.53,0.296],[-0.46,0.296],
];
const coreLevel8: number[][] = [
[-0.62,0.328],[-0.60,0.335],[-0.58,0.34],[-0.555,0.345],[-0.535,0.34],[-0.51,0.336],[-0.49,0.33],[-0.465,0.325],[-0.44,0.32],[-0.64,0.32],[-0.66,0.315],
[-0.635,0.33],[-0.61,0.34],[-0.59,0.345],[-0.57,0.348],[-0.545,0.348],[-0.52,0.344],[-0.50,0.34],[-0.48,0.328],[-0.455,0.33],[-0.43,0.33],[-0.415,0.315],[-0.45,0.322],[-0.625,0.338],[-0.60,0.348],[-0.54,0.343],[-0.51,0.328],[-0.395,0.325],[-0.375,0.33],[-0.35,0.325],[-0.33,0.33],[-0.31,0.325],[-0.29,0.32],[-0.30,0.335],[-0.48,0.34],[-0.46,0.338],[-0.44,0.344],[-0.42,0.345],[-0.40,0.345],
];
const coreLevel75: number[][] = [
[-0.59,0.352],[-0.565,0.355],[-0.54,0.362],[-0.515,0.355],[-0.49,0.358],[-0.46,0.354],[-0.44,0.355],[-0.42,0.358],[-0.40,0.355],[-0.38,0.35],[-0.36,0.352],[-0.34,0.355],[-0.32,0.352],[-0.30,0.35],[-0.28,0.352],[-0.26,0.335],[-0.42,0.335],[-0.40,0.34],[-0.38,0.34],[-0.36,0.335],[-0.34,0.34],[-0.31,0.34],[-0.295,0.33],[-0.27,0.325],[-0.40,0.32],[-0.38,0.325],[-0.36,0.32],[-0.34,0.31],[-0.32,0.315],[-0.30,0.315],[-0.28,0.315],[-0.26,0.31],[-0.42,0.325],[-0.44,0.335],
[-0.61,0.352],[-0.60,0.362],[-0.58,0.365],[-0.565,0.368],[-0.55,0.37],[-0.53,0.355],[-0.52,0.368],[-0.50,0.365],[-0.48,0.368],[-0.47,0.36],[-0.45,0.362],[-0.43,0.365],[-0.41,0.365],[-0.39,0.362],[-0.37,0.36],[-0.355,0.365],[-0.33,0.362],[-0.31,0.36],[-0.29,0.362],[-0.27,0.36],[-0.25,0.358],[-0.23,0.362],[-0.21,0.355],[-0.27,0.345],[-0.25,0.34],[-0.24,0.325],[-0.39,0.31],[-0.37,0.315],[-0.35,0.305],[-0.33,0.32],[-0.31,0.33],[-0.285,0.33],[-0.41,0.305],[-0.395,0.33],[-0.345,0.348],[-0.325,0.345],[-0.41,0.348],[-0.47,0.343],[-0.49,0.35],[-0.51,0.345],
];
const coreLevel67: number[][] = [
[-0.48,0.375],[-0.46,0.372],[-0.44,0.378],[-0.42,0.37],[-0.40,0.375],[-0.38,0.368],[-0.36,0.372],[-0.34,0.375],[-0.32,0.37],[-0.30,0.372],[-0.28,0.375],[-0.26,0.37],[-0.24,0.372],[-0.22,0.37],[-0.44,0.39],[-0.42,0.385],[-0.40,0.39],[-0.38,0.385],[-0.36,0.39],[-0.34,0.385],[-0.32,0.39],[-0.30,0.395],[-0.28,0.39],[-0.26,0.385],[-0.24,0.39],[-0.22,0.385],[-0.20,0.39],[-0.30,0.41],[-0.28,0.405],[-0.26,0.40],[-0.24,0.405],[-0.42,0.30],[-0.40,0.295],[-0.38,0.305],[-0.36,0.30],[-0.34,0.305],[-0.32,0.30],[-0.30,0.30],[-0.28,0.302],[-0.26,0.298],[-0.24,0.30],[-0.22,0.31],
[-0.50,0.38],[-0.47,0.385],[-0.455,0.38],[-0.43,0.385],[-0.41,0.38],[-0.39,0.375],[-0.37,0.38],[-0.35,0.38],[-0.33,0.38],[-0.31,0.38],[-0.29,0.38],[-0.27,0.38],[-0.25,0.378],[-0.23,0.38],[-0.21,0.375],[-0.45,0.40],[-0.43,0.395],[-0.41,0.395],[-0.39,0.40],[-0.37,0.40],[-0.35,0.40],[-0.33,0.40],[-0.31,0.405],[-0.29,0.40],[-0.27,0.41],[-0.25,0.415],[-0.23,0.41],[-0.21,0.395],[-0.19,0.38],[-0.42,0.41],[-0.38,0.41],[-0.34,0.415],[-0.30,0.42],[-0.26,0.425],[-0.46,0.29],[-0.44,0.28],[-0.42,0.29],[-0.40,0.285],[-0.38,0.29],[-0.36,0.29],[-0.34,0.28],[-0.32,0.285],[-0.30,0.29],[-0.40,0.31],[-0.43,0.265],[-0.42,0.25],[-0.37,0.265],[-0.33,0.27],[-0.29,0.275],[-0.27,0.30],[-0.25,0.305],
];
const coreLevel5: number[][] = [
[-0.27,0.29],[-0.25,0.28],[-0.23,0.27],[-0.22,0.29],[-0.20,0.30],[-0.21,0.32],[-0.24,0.315],[-0.26,0.275],[-0.25,0.26],[-0.29,0.25],[-0.33,0.255],[-0.36,0.255],
[-0.33,0.41],[-0.31,0.43],[-0.36,0.43],[-0.40,0.42],[-0.29,0.435],[-0.27,0.42],[-0.25,0.41],[-0.21,0.405],[-0.19,0.40],[-0.17,0.385],[-0.18,0.36],[-0.20,0.345],[-0.19,0.33],[-0.21,0.335],[-0.22,0.32],[-0.19,0.31],[-0.17,0.305],[-0.21,0.30],[-0.23,0.295],[-0.24,0.285],[-0.22,0.275],[-0.20,0.28],[-0.18,0.295],[-0.16,0.285],[-0.23,0.26],[-0.21,0.255],[-0.27,0.255],[-0.31,0.24],[-0.35,0.235],[-0.38,0.25],[-0.30,0.285],[-0.14,0.35],[-0.13,0.32],[-0.11,0.33],[-0.09,0.34],[-0.12,0.36],[-0.10,0.37],[-0.15,0.39],[-0.13,0.40],[-0.11,0.39],[-0.08,0.40],[-0.06,0.36],[-0.05,0.33],[-0.03,0.35],[-0.01,0.355],[0.02,0.36],[0.05,0.35],[-0.02,0.39],[0.02,0.39],[0.06,0.36],[-0.10,0.44],[-0.07,0.43],[-0.17,0.44],[-0.20,0.44],
];
const coreLevel43: number[][] = [
[-0.19,0.36],[-0.17,0.35],[-0.16,0.37],[-0.14,0.36],[-0.12,0.35],[-0.10,0.36],[-0.18,0.42],[-0.16,0.40],[-0.13,0.42],[-0.12,0.38],[-0.08,0.38],[-0.06,0.40],[-0.04,0.42],[-0.02,0.37],[0.01,0.35],[0.03,0.37],[-0.05,0.35],[-0.07,0.35],[-0.09,0.33],[-0.12,0.31],[-0.14,0.315],[-0.15,0.33],[-0.17,0.34],[-0.16,0.29],[-0.19,0.29],[-0.15,0.26],[-0.18,0.27],[-0.27,0.38],[-0.33,0.43],[-0.26,0.44],[-0.38,0.44],[-0.44,0.43],[-0.47,0.41],[-0.52,0.40],[-0.58,0.39],[0.10,0.35],[0.13,0.36],[0.09,0.39],[0.15,0.40],[0.18,0.36],
];
const coreLevel22: number[][] = [
[-0.20,0.37],[-0.18,0.37],[-0.15,0.345],[-0.13,0.34],[-0.11,0.345],[-0.09,0.36],[-0.07,0.39],[-0.05,0.375],[-0.03,0.36],[0.0,0.36],[0.03,0.35],[-0.14,0.39],[-0.17,0.41],[-0.13,0.43],[-0.11,0.41],[-0.09,0.42],[-0.07,0.41],[-0.15,0.31],[-0.13,0.305],[-0.11,0.30],[-0.09,0.29],[-0.16,0.27],[-0.14,0.25],[-0.12,0.245],[-0.24,0.42],[-0.20,0.42],[-0.27,0.445],[-0.31,0.41],[-0.42,0.44],[-0.46,0.43],[-0.55,0.395],[-0.60,0.39],[-0.62,0.36],[-0.64,0.35],[-0.67,0.36],[-0.69,0.33],[0.05,0.32],[0.08,0.33],[0.12,0.34],[0.16,0.35],
];

// Colour scale, at every half level from 1 to 10
const colourScale = ["#00008f","#0000c0","#0000f5","#0030ff","#0068ff","#0098ff","#00ccff","#00ffee","#00ff90","#40ff50","#a0ff00","#f0ff00","#ffc800","#ff9800","#ff6400","#ff3000","#ff0000","#c00000","#8f0000"];
const colourBands = 64;

// ---------- Panel (b): mean NDWI and mean AOD ----------
const meanNdwi = [-0.855,-0.836,-0.826,-0.814,-0.806,-0.794,-0.785,-0.775,-0.765,-0.756,-0.744,-0.735,-0.726,-0.714,-0.705,-0.696,-0.684,-0.675,-0.664,-0.655,-0.643,-0.634,-0.625,-0.615,-0.604,-0.595,-0.585,-0.574,-0.563,-0.554,-0.544,-0.533,-0.524,-0.513,-0.504,-0.494,-0.483,-0.472,-0.462,-0.452,-0.442,-0.432,-0.423,-0.412,-0.402,-0.392,-0.383,-0.372,-0.362,-0.352,-0.342,-0.332,-0.322,-0.312,-0.302,-0.292,-0.282,-0.272,-0.262,-0.252,-0.242,-0.231,-0.222,-0.211,-0.201,-0.191,-0.181,-0.171,-0.16,-0.152,-0.144,-0.135,-0.125,-0.115,-0.105,-0.094,-0.084,-0.075,-0.065,-0.054,-0.045,-0.035,-0.024,-0.014,-0.004,0.006,0.016,0.026,0.036,0.046,0.056,0.066,0.077,0.086,0.107,0.116,0.126,0.137,0.146,0.157,0.167,0.177,0.186,0.197,0.206,0.216,0.227,0.237,0.247,0.257,0.267,0.277,0.287,0.297,0.307,0.317,0.328,0.337,0.347,0.358,0.367,0.377,0.387,0.397,0.407,0.418,0.427,0.437,0.448,0.458,0.467,0.478,0.488,0.498,0.508,0.518,0.528,0.539,0.548,0.557,0.568,0.578,0.588,0.598,0.608,0.628,0.638,0.648,0.658,0.669,0.678,0.688,0.699,0.709,0.718,0.729,0.739,0.749,0.759,0.769,0.778,0.789,0.799,0.808,0.819,0.829,0.839,0.85,0.869,0.889,0.899,0.97];
const meanAod = [0.3038,0.3075,0.3157,0.3166,0.3031,0.3023,0.322,0.3153,0.311,0.3133,0.3175,0.308,0.3088,0.313,0.3097,0.3133,0.3166,0.308,0.31,0.3058,0.3124,0.3133,0.3124,0.3115,0.312,0.3153,0.3133,0.3133,0.319,0.313,0.3144,0.321,0.3093,0.316,0.3259,0.324,0.319,0.3282,0.3088,0.317,0.3157,0.3226,0.317,0.3144,0.3252,0.3269,0.3302,0.3325,0.3219,0.3273,0.3306,0.3315,0.3335,0.3267,0.3276,0.3202,0.3335,0.3259,0.3331,0.3388,0.3415,0.3335,0.3471,0.3441,0.3253,0.3326,0.3322,0.3411,0.3334,0.3233,0.3393,0.3364,0.3471,0.3498,0.3528,0.3322,0.3306,0.3566,0.3173,0.3356,0.3678,0.3736,0.3432,0.358,0.3741,0.3297,0.3125,0.3366,0.3455,0.3292,0.3285,0.3592,0.345,0.3337,0.3337,0.3113,0.319,0.3625,0.3475,0.3084,0.3379,0.3296,0.3841,0.328,0.3481,0.3378,0.3263,0.375,0.3218,0.3084,0.3877,0.3996,0.3165,0.3401,0.3296,0.37,0.3179,0.3163,0.3837,0.3689,0.3289,0.3574,0.3511,0.3183,0.3111,0.3396,0.3639,0.3421,0.3717,0.3318,0.3407,0.4033,0.3736,0.3315,0.3397,0.3884,0.3441,0.3388,0.353,0.3511,0.4018,0.3282,0.3494,0.3729,0.3573,0.4081,0.4029,0.3697,0.402,0.397,0.411,0.351,0.4082,0.381,0.3576,0.3625,0.3713,0.3161,0.4003,0.3441,0.351,0.3822,0.3692,0.3413,0.351,0.3582,0.3697,0.3597,0.3943,0.4009,0.3321,0.3886];
const trendNdwi = [-0.86, 1];
const trendAod = [0.3059, 0.3777];
const xTicksB = [-1, -0.6, -0.2, 0.2, 0.6, 1];
const yTicksB = [0.28, 0.31, 0.34, 0.37, 0.4, 0.43];

const SERIF = "'Liberation Serif', serif";
const GREY = "#555555";
const BLACK = "#111111";
const BLUE = "#1a96d6";

function withLevel(points: number[][], level: number) {
  return points.map((p) => [p[0], p[1], level]);
}
const scatterA = [
  ...sparseUpper, ...sparseRight, ...sparseMiddle, ...denseLeft,
  ...withLevel(coreLevel10, 10), ...withLevel(coreLevel95, 9.6), ...withLevel(coreLevel9, 9),
  ...withLevel(coreLevel8, 8.2), ...withLevel(coreLevel75, 7.4), ...withLevel(coreLevel67, 6.8), ...withLevel(coreLevel5, 5),
  ...withLevel(coreLevel43, 4.3), ...withLevel(coreLevel22, 2.2),
].sort((a, b) => a[2] - b[2]);

const bandColours = Array.from({ length: colourBands }, (_, i) =>
  echarts.color.lerp((i + 0.5) / colourBands, colourScale) as string
);
const bandData = bandColours.map((_, i) => [1 + (9 * i) / colourBands, 1 + (9 * (i + 1)) / colourBands]);

const signed = (v: number, digits?: number) => {
  const s = digits === undefined ? String(v) : v.toFixed(digits);
  return s.replace("-", "\u2212");
};

export default function App() {
  const ref = useRef<HTMLDivElement>(null);
  useEffect(() => {
    const chart = echarts.init(ref.current!, null, { renderer: "svg" });
    const axisA = { show: true, lineStyle: { color: "#444", width: 3 }, onZero: false };
    const tickA = { show: true, inside: true, length: 10, lineStyle: { color: "#444", width: 3 } };
    const axisB = { show: true, lineStyle: { color: "#000", width: 4 }, onZero: false };
    const tickB = { show: true, inside: true, length: 20, lineStyle: { color: "#000", width: 3 } };
    chart.setOption({
      animation: false,
      backgroundColor: "#fff",
      textStyle: { fontFamily: SERIF },
      grid: [
        { left: 202, top: 60, width: 1275, height: 1146 },
        { left: 2388, top: 188, width: 1545, height: 832 },
        { left: 1547, top: 60, width: 72, height: 1146, show: true, borderColor: "#333", borderWidth: 2, backgroundColor: "transparent" },
      ],
      xAxis: [
        {
          gridIndex: 0, type: "value", min: -0.8, max: 0.8, interval: 0.2, splitLine: { show: false },
          axisLine: axisA, axisTick: tickA,
          axisLabel: { fontFamily: SERIF, fontSize: 45, color: GREY, margin: 26, showMinLabel: true, showMaxLabel: true,
            formatter: (v: number) => (Math.abs(v) < 1e-9 ? "0" : signed(v, 1)) },
          name: "NDWI values", nameLocation: "middle", nameGap: 69,
          nameTextStyle: { fontFamily: SERIF, fontSize: 55, color: "#333", padding: [0, 0, 0, 32] },
        },
        {
          gridIndex: 1, type: "value", min: -1, max: 1, splitLine: { show: false },
          axisLine: axisB,
          axisTick: { ...tickB, customValues: xTicksB },
          axisLabel: { fontFamily: SERIF, fontSize: 47, color: BLACK, margin: 38, customValues: xTicksB,
            formatter: (v: number) => signed(v) },
          name: "mean NDWI", nameLocation: "middle", nameGap: 115,
          nameTextStyle: { fontFamily: SERIF, fontSize: 57, color: BLACK },
        },
        { gridIndex: 2, type: "value", min: 0, max: 1, show: false },
      ],
      yAxis: [
        {
          gridIndex: 0, type: "value", min: 0.1, max: 0.9, interval: 0.1, splitLine: { show: false },
          axisLine: axisA, axisTick: tickA,
          axisLabel: { fontFamily: SERIF, fontSize: 46, color: GREY, margin: 20, formatter: (v: number) => v.toFixed(1) },
          name: "AOD values", nameLocation: "middle", nameGap: 107,
          nameTextStyle: { fontFamily: SERIF, fontSize: 55, color: "#333", padding: [0, 70, 0, 0] },
        },
        {
          gridIndex: 1, type: "value", min: 0.28, max: 0.43, splitLine: { show: false },
          axisLine: axisB,
          axisTick: { ...tickB, customValues: yTicksB },
          axisLabel: { fontFamily: SERIF, fontSize: 47, color: BLACK, margin: 33, customValues: yTicksB,
            formatter: (v: number) => String(Number(v.toFixed(2))) },
          name: "mean AOD", nameLocation: "middle", nameGap: 149,
          nameTextStyle: { fontFamily: SERIF, fontSize: 57, color: BLACK },
        },
        {
          gridIndex: 2, type: "value", position: "right", min: 1, max: 10, interval: 1, splitLine: { show: false },
          axisLine: { show: true, lineStyle: { color: "#333", width: 2 } },
          axisTick: { show: true, inside: true, length: 12, lineStyle: { color: "#333", width: 2 } },
          axisLabel: { fontFamily: SERIF, fontSize: 40, color: "#666", margin: 19, formatter: (v: number) => String(v) },
          name: "Density level", nameLocation: "middle", nameRotate: -90, nameGap: 36,
          nameTextStyle: { fontFamily: SERIF, fontSize: 54, color: "#333", padding: [0, 0, 0, 68] },
        },
      ],
      visualMap: {
        show: false, type: "continuous", seriesIndex: 0, dimension: 2, min: 1, max: 10,
        inRange: { color: colourScale },
      },
      series: [
        {
          type: "scatter", xAxisIndex: 0, yAxisIndex: 0, data: scatterA, symbol: "circle", symbolSize: 15,
          silent: true, large: false, progressive: 0, clip: false,
        },
        {
          type: "custom", xAxisIndex: 2, yAxisIndex: 2, data: bandData, silent: true, clip: false,
          encode: { y: [0, 1] },
          renderItem: (params: any, api: any) => {
            const lo = api.coord([0, api.value(0)]);
            const hi = api.coord([1, api.value(1)]);
            return {
              type: "rect",
              shape: { x: lo[0], y: hi[1], width: hi[0] - lo[0], height: lo[1] - hi[1] + 0.6 },
              style: { fill: bandColours[params.dataIndex] },
            };
          },
        },
        {
          type: "line", xAxisIndex: 1, yAxisIndex: 1, data: trendNdwi.map((x, i) => [x, trendAod[i]]),
          showSymbol: false, silent: true,
          lineStyle: { color: BLUE, width: 5, type: [5, 10] },
        },
        {
          type: "scatter", xAxisIndex: 1, yAxisIndex: 1, data: meanNdwi.map((x, i) => [x, meanAod[i]]),
          symbol: "circle", symbolSize: 20, silent: true, itemStyle: { color: BLUE, opacity: 1 },
        },
      ],
      graphic: [
        { type: "text", x: 2846, y: 276, style: { text: "y = 0.0386x + 0.3391", fontFamily: SERIF, fontSize: 46, fill: BLACK, align: "center", verticalAlign: "middle" } },
        { type: "text", x: 2846, y: 333, style: { text: "R\u00b2 = 0.5127", fontFamily: SERIF, fontSize: 43, fill: BLACK, align: "center", verticalAlign: "middle" } },
        { type: "text", x: 888, y: 1403, style: { text: "{p|(}{b|a}{p|)}", align: "center", verticalAlign: "middle", rich: { p: { fontFamily: SERIF, fontSize: 70, fill: "#000", color: "#000" }, b: { fontFamily: SERIF, fontSize: 70, fontWeight: "bold", fill: "#000", color: "#000" } } } },
        { type: "text", x: 3067, y: 1403, style: { text: "{p|(}{b|b}{p|)}", align: "center", verticalAlign: "middle", rich: { p: { fontFamily: SERIF, fontSize: 70, fill: "#000", color: "#000" }, b: { fontFamily: SERIF, fontSize: 70, fontWeight: "bold", fill: "#000", color: "#000" } } } },
      ],
    });
    return () => chart.dispose();
  }, []);
  return <div ref={ref} style={{ position: "absolute", left: 0, top: 0, width: 3980, height: 1462 }} />;
}
